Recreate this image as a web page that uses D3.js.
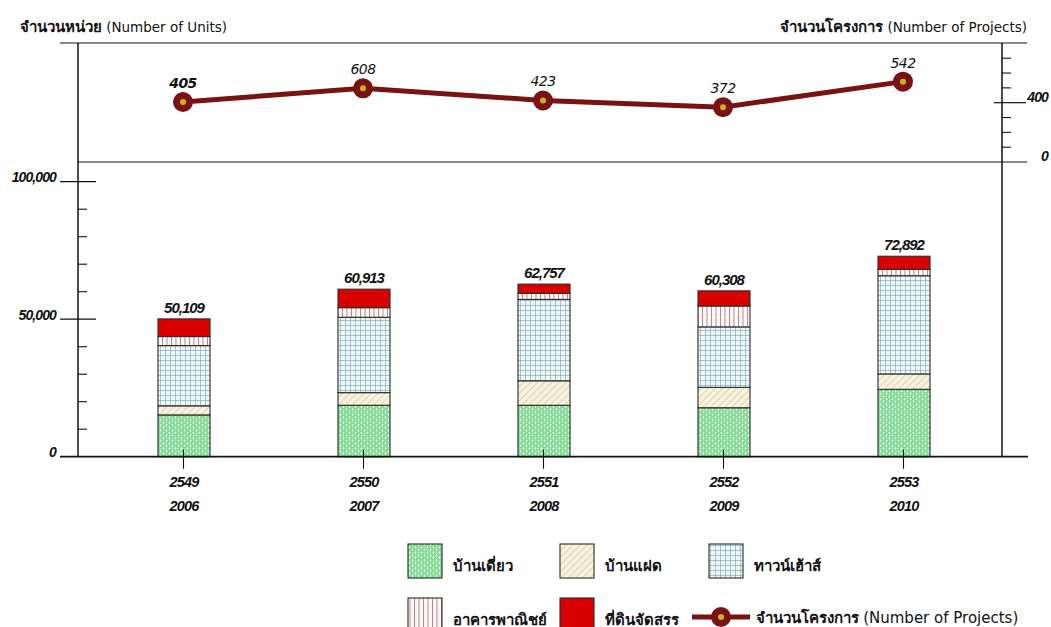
<!DOCTYPE html>
<html>
<head>
<meta charset="utf-8">
<script src="https://cdn.jsdelivr.net/npm/d3@7"></script>
<style>
  html, body { margin: 0; padding: 0; background: #fff; }
  svg { display: block; font-family: "Liberation Sans", "Noto Sans", "DejaVu Sans", sans-serif; }
</style>
</head>
<body>
<svg id="chart" width="1051" height="627"></svg>
<script>
// ---- data ----
const yearsBE = ["2549", "2550", "2551", "2552", "2553"];
const yearsCE = ["2006", "2007", "2008", "2009", "2010"];
const singleHouse = [15200, 18700, 18700, 17800, 24500];   // บ้านเดี่ยว
const twinHouse   = [3300, 4600, 8900, 7400, 5600];        // บ้านแฝด
const townhouse   = [21900, 27400, 29600, 22000, 35700];   // ทาวน์เฮ้าส์
const shophouse   = [3300, 3500, 2200, 7600, 2300];        // อาคารพาณิชย์
const landPlots   = [6409, 6713, 3357, 5508, 4792];        // ที่ดินจัดสรร
const totals      = [50109, 60913, 62757, 60308, 72892];
// project counts as printed, and as the markers sit on the right-hand scale
const projectLabels = ["405", "608", "423", "372", "542"];
const projects      = [405, 497, 415, 370, 542];
const seriesNames = ["บ้านเดี่ยว", "บ้านแฝด", "ทาวน์เฮ้าส์", "อาคารพาณิชย์", "ที่ดินจัดสรร"];
const unitMajorTicks = [0, 50000, 100000];
const unitMinorTicks = [10000, 20000, 30000, 40000, 60000, 70000, 80000, 90000];
const unitTickLabels = ["0", "50,000", "100,000"];
const projMajorTicks = [0, 400];
const projMinorTicks = [100, 200, 300, 500, 600, 700];
const projTickLabels = ["0", "400"];

// ---- layout ----
const svg = d3.select("#chart");
const frame = { left: 78, right: 1002, top: 43, divider: 162, base: 456.7 };

const x = d3.scaleBand().domain(yearsBE).range([94, 994]);
const cx = d => x(d) + x.bandwidth() / 2;
const barW = 52;
const yU = d3.scaleLinear().domain([0, 100000]).range([frame.base, 181.7]);
const yP = d3.scaleLinear().domain([0, 400]).range([frame.divider, 102.7]);

// ---- patterns ----
const defs = svg.append("defs");
function pat(id, w, h, bg, draw, transform) {
  const p = defs.append("pattern").attr("id", id).attr("patternUnits", "userSpaceOnUse")
    .attr("width", w).attr("height", h);
  if (transform) p.attr("patternTransform", transform);
  p.append("rect").attr("width", w).attr("height", h).attr("fill", bg);
  draw(p);
}
pat("pGreen", 6, 5.2, "#b9ecc3", p => {
  [[1.5, 1.3], [4.5, 3.9], [-1.5, 3.9], [7.5, 1.3], [1.5, 6.5], [4.5, -1.3]].forEach(c =>
    p.append("circle").attr("cx", c[0]).attr("cy", c[1]).attr("r", 1.6)
      .attr("fill", "#f4fff6").attr("stroke", "#2fbf4c").attr("stroke-width", 0.7));
});
pat("pHatch", 5, 5, "#f7f3de", p => {
  p.append("line").attr("x1", 0).attr("y1", 0).attr("x2", 0).attr("y2", 5)
    .attr("stroke", "#c9bb8a").attr("stroke-width", 1.1);
}, "rotate(45)");
pat("pGrid", 5, 5, "#eef7f8", p => {
  p.append("path").attr("d", "M0 0.3H5M0.3 0V5").attr("stroke", "#6e9ea0").attr("stroke-width", 0.7);
});
pat("pVert", 4.5, 5, "#fdf8f8", p => {
  p.append("line").attr("x1", 0.5).attr("y1", 0).attr("x2", 0.5).attr("y2", 5)
    .attr("stroke", "#b07474").attr("stroke-width", 0.9);
});
const fills = ["url(#pGreen)", "url(#pHatch)", "url(#pGrid)", "url(#pVert)", "#d90000"];

// ---- frame lines ----
const ink = "#111";
const g = svg.append("g");
g.append("line").attr("x1", 60).attr("x2", 1027).attr("y1", frame.top).attr("y2", frame.top).attr("stroke", ink).attr("stroke-width", 1.2);
g.append("line").attr("x1", frame.left).attr("x2", 1027).attr("y1", frame.divider).attr("y2", frame.divider).attr("stroke", ink).attr("stroke-width", 1.2);
g.append("line").attr("x1", frame.left).attr("x2", frame.left).attr("y1", frame.top).attr("y2", frame.base).attr("stroke", ink).attr("stroke-width", 1.5);
g.append("line").attr("x1", frame.right).attr("x2", frame.right).attr("y1", frame.top).attr("y2", frame.base).attr("stroke", ink).attr("stroke-width", 1.5);

const numFont = sel => sel.attr("font-weight", "bold").attr("font-style", "italic").attr("fill", ink);

// left axis ticks
g.selectAll(".umaj").data(unitMajorTicks.filter(v => v > 0)).join("line")
  .attr("x1", 60).attr("x2", 96).attr("y1", d => yU(d)).attr("y2", d => yU(d)).attr("stroke", ink).attr("stroke-width", 1.3);
g.selectAll(".umin").data(unitMinorTicks).join("line")
  .attr("x1", frame.left).attr("x2", 87).attr("y1", d => yU(d)).attr("y2", d => yU(d)).attr("stroke", ink).attr("stroke-width", 1.1);
g.selectAll(".ulab").data(unitMajorTicks).join("text")
  .attr("x", 56).attr("y", d => yU(d) + 0.5).attr("text-anchor", "end")
  .attr("font-size", 14).attr("letter-spacing", -0.9).call(numFont)
  .text((d, i) => unitTickLabels[i]);

// right axis ticks
g.selectAll(".pmaj").data(projMajorTicks.filter(v => v > 0)).join("line")
  .attr("x1", 994).attr("x2", 1026).attr("y1", d => yP(d)).attr("y2", d => yP(d)).attr("stroke", ink).attr("stroke-width", 1.2);
g.selectAll(".pmin").data(projMinorTicks).join("line")
  .attr("x1", frame.right).attr("x2", 1011).attr("y1", d => yP(d)).attr("y2", d => yP(d)).attr("stroke", ink).attr("stroke-width", 1.1);
g.selectAll(".plab").data(projMajorTicks).join("text")
  .attr("x", 1048).attr("y", d => yP(d) - 1).attr("text-anchor", "end")
  .attr("font-size", 14).attr("letter-spacing", -0.9).call(numFont)
  .text((d, i) => projTickLabels[i]);

// ---- stacked bars ----
const rows = yearsBE.map((y, i) => ({ year: y, vals: [singleHouse[i], twinHouse[i], townhouse[i], shophouse[i], landPlots[i]] }));
const bars = svg.append("g");
rows.forEach((r, i) => {
  let acc = 0;
  r.vals.forEach((v, k) => {
    bars.append("rect")
      .attr("x", cx(r.year) - barW / 2).attr("width", barW)
      .attr("y", yU(acc + v)).attr("height", yU(acc) - yU(acc + v))
      .attr("fill", fills[k]).attr("stroke", "#2b2b2b").attr("stroke-width", 1.1);
    acc += v;
  });
});
// baseline on top of bars
svg.append("line").attr("x1", 60).attr("x2", 1028).attr("y1", frame.base).attr("y2", frame.base).attr("stroke", ink).attr("stroke-width", 1.8);
// category ticks
svg.selectAll(".xt").data(yearsBE).join("line")
  .attr("x1", d => cx(d) - 0.5).attr("x2", d => cx(d) - 0.5).attr("y1", frame.base - 7).attr("y2", frame.base + 12)
  .attr("stroke", ink).attr("stroke-width", 1.1);
// total labels
svg.selectAll(".tot").data(yearsBE).join("text")
  .attr("x", d => cx(d)).attr("y", (d, i) => yU(totals[i]) - 6).attr("text-anchor", "middle")
  .attr("font-size", 15).attr("letter-spacing", -1).call(numFont)
  .text((d, i) => d3.format(",")(totals[i]));
// x labels
svg.selectAll(".xl1").data(yearsBE).join("text")
  .attr("x", d => cx(d)).attr("y", 487).attr("text-anchor", "middle")
  .attr("font-size", 14.5).attr("letter-spacing", -0.8).call(numFont)
  .text(d => d);
svg.selectAll(".xl2").data(yearsBE).join("text")
  .attr("x", d => cx(d)).attr("y", 511).attr("text-anchor", "middle")
  .attr("font-size", 14.5).attr("letter-spacing", -0.8).call(numFont)
  .text((d, i) => yearsCE[i]);

// ---- project line ----
const lineCol = "#7a1212";
const pts = yearsBE.map((d, i) => [cx(d) - 1, yP(projects[i])]);
svg.append("path").attr("d", d3.line()(pts)).attr("fill", "none").attr("stroke", lineCol).attr("stroke-width", 5);
svg.selectAll(".pc").data(pts).join("circle").attr("cx", d => d[0]).attr("cy", d => d[1]).attr("r", 10).attr("fill", lineCol);
svg.selectAll(".pd").data(pts).join("circle").attr("cx", d => d[0]).attr("cy", d => d[1]).attr("r", 3).attr("fill", "#c8b41c");
svg.selectAll(".pl").data(pts).join("text")
  .attr("x", d => d[0]).attr("y", d => d[1] - 14).attr("text-anchor", "middle")
  .attr("font-family", "'DejaVu Sans', sans-serif")
  .attr("font-size", 14).attr("font-style", "italic").attr("font-weight", (d, i) => i === 0 ? "bold" : "normal")
  .attr("letter-spacing", -0.6)
  .attr("fill", ink).text((d, i) => projectLabels[i]);

// ---- headers ----
function header(xp, anchor, thai, latin) {
  const t = svg.append("text").attr("x", xp).attr("y", 32).attr("text-anchor", anchor).attr("font-size", 15).attr("fill", ink);
  t.append("tspan").attr("font-weight", "bold").text(thai + " ");
  t.append("tspan").attr("font-family", "'DejaVu Sans', sans-serif").attr("font-size", 13.5).text(latin);
}
header(20, "start", "จำนวนหน่วย", "(Number of Units)");
header(1027, "end", "จำนวนโครงการ", "(Number of Projects)");

// ---- legend ----
const legItems = [
  { col: 408, row: 0, k: 0 }, { col: 560, row: 0, k: 1 }, { col: 709, row: 0, k: 2 },
  { col: 408, row: 1, k: 3 }, { col: 560, row: 1, k: 4 }
];
const rowY = [544, 598];
const leg = svg.append("g");
legItems.forEach(it => {
  leg.append("rect").attr("x", it.col).attr("y", rowY[it.row]).attr("width", 34).attr("height", 34)
    .attr("fill", fills[it.k]).attr("stroke", "#2b2b2b").attr("stroke-width", 1.1);
  leg.append("text").attr("x", it.col + 45).attr("y", rowY[it.row] + 27)
    .attr("font-size", 15).attr("font-weight", "bold").attr("fill", ink).text(seriesNames[it.k]);
});
leg.append("line").attr("x1", 692).attr("x2", 750).attr("y1", 617).attr("y2", 617).attr("stroke", lineCol).attr("stroke-width", 5);
leg.append("circle").attr("cx", 721).attr("cy", 617).attr("r", 10).attr("fill", lineCol);
leg.append("circle").attr("cx", 721).attr("cy", 617).attr("r", 3).attr("fill", "#c8b41c");
const lt = leg.append("text").attr("x", 756).attr("y", 623).attr("font-size", 15).attr("fill", ink);
lt.append("tspan").attr("font-weight", "bold").text("จำนวนโครงการ ");
lt.append("tspan").attr("font-family", "'DejaVu Sans', sans-serif").attr("font-size", 15).text("(Number of Projects)");
</script>
</body>
</html>
